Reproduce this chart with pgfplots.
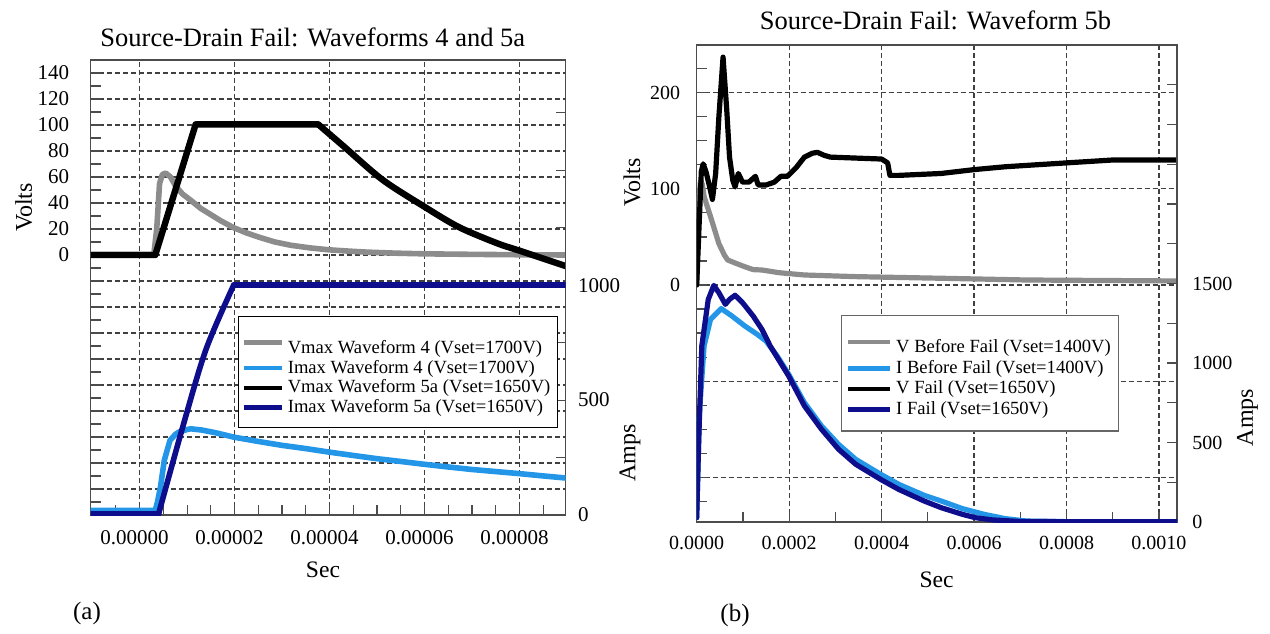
\documentclass[border=0pt]{standalone}
\usepackage{pgfplots}
\pgfplotsset{compat=1.18}
\usepackage{fontspec}
\setmainfont{Liberation Serif}
\definecolor{vgray}{RGB}{140,140,140}
\definecolor{iblue}{RGB}{35,150,232}
\definecolor{inavy}{RGB}{14,14,140}
\pgfplotsset{
  common/.style={
    scale only axis,
    /pgf/number format/assume math mode=true,
    tick align=inside,
    major tick length=5pt, minor tick length=5pt,
    tick style={black!70, line width=0.6pt},
    axis line style={black!70, line width=0.6pt},
    major grid style={black!75, line width=0.6pt, dash pattern=on 2.5pt off 1.5pt},
    every axis plot/.append style={line join=round, line cap=round},
  },
}
\begin{document}
\begin{tikzpicture}
\useasboundingbox (0,0) rectangle (635pt,316.5pt);
% ---------------- Left panel: volts ----------------
\begin{axis}[common,
  at={(45.35pt,59pt)}, anchor=south west,
  width=237.45pt, height=227.5pt,
  xmin=-1.03, xmax=8.97, ymin=-200, ymax=150,
  xtick={0,2,4,6,8}, xticklabels={0.00000,0.00002,0.00004,0.00006,0.00008},
  minor xtick={-0.5,0.5,1,1.5,2.5,3,3.5,4.5,5,5.5,6.5,7,7.5,8.5},
  ytick={-200,-180,...,140},
  yticklabels={,,,,,,,,,,0,20,40,60,80,100,120,140},
  minor ytick={-190,-170,...,130},
  xtick pos=bottom, ytick pos=left,
  grid=major,
  xticklabel style={font=\fontsize{10.5}{12}\selectfont, yshift=-4pt, xshift=-2.5pt},
  yticklabel style={font=\fontsize{10.5}{12}\selectfont, xshift=-7.3pt},
]
\addplot[vgray, line width=2.8pt] coordinates {
(-1.03,0.5) (0.30,0.5) (0.36,20) (0.42,55) (0.48,62) (0.55,63) (0.65,60) (0.76,53)
(0.9,47) (1.08,42) (1.28,36) (1.48,31.5) (1.7,26.5) (1.98,21) (2.25,17) (2.53,13.5)
(2.85,10) (3.18,7.5) (3.58,5.5) (3.98,4) (4.4,3) (4.79,2.2) (5.4,1.4) (5.98,0.9)
(7,0.5) (8,0.2) (8.97,0)
};
\addplot[black, line width=3.2pt] coordinates {
(-1.03,0) (0.33,0) (1.18,100.5) (3.76,100.5)
};
\addplot[black, line width=3.2pt, smooth, tension=0.5] coordinates {
(3.76,100.5) (4.3,83.5) (5.11,58) (5.98,37.5) (6.72,21.5) (7.53,9) (8.0,3.3) (8.97,-8.5)
};
\end{axis}
% ---------------- Left panel: amps ----------------
\begin{axis}[common,
  at={(45.35pt,59pt)}, anchor=south west,
  width=237.45pt, height=227.5pt,
  xmin=-1.03, xmax=8.97, ymin=0, ymax=1980,
  axis x line=none, axis y line*=right,
  ytick={0,250,...,1750}, yticklabels={0,,500,,1000,,,},
  yticklabel style={font=\fontsize{10.5}{12}\selectfont, xshift=2.7pt},
  legend style={at={(0.984,0.4374)}, anchor=north east, draw=black, line width=0.6pt,
    fill=white, font=\fontsize{9.3}{10.5}\selectfont, row sep=-2.25pt,
    inner xsep=1.5pt, inner ysep=4.05pt},
  legend cell align=left,
  legend image code/.code={\draw[#1, line width=2.2pt, line cap=butt] (0pt,0pt) -- (19pt,0pt);},
]
\addlegendimage{vgray}
\addlegendentry{\rule{0pt}{12.5pt}Vmax Waveform 4 (Vset=1700V)}
\addlegendimage{iblue}
\addlegendentry{Imax Waveform 4 (Vset=1700V)}
\addlegendimage{black}
\addlegendentry{Vmax Waveform 5a (Vset=1650V)}
\addlegendimage{inavy}
\addlegendentry{Imax Waveform 5a (Vset=1650V)}
\addplot[iblue, line width=2.8pt, forget plot] coordinates {
(-1.03,20) (0.33,20) (0.38,60) (0.44,123) (0.52,238) (0.64,325) (0.76,352) (0.84,362)
(1.0,372) (1.08,375) (1.3,370) (1.6,358) (1.98,339) (2.5,320) (3.0,303) (3.5,289)
(3.98,274) (4.5,259) (5.0,245) (5.5,233) (5.98,221) (6.5,209) (7.0,198) (7.5,189)
(8.0,180) (8.5,170) (8.97,161)
};
\addplot[inavy, line width=2.8pt, forget plot] coordinates {(-1.03,5) (0.40,5)};
\addplot[inavy, line width=2.8pt, smooth, tension=0.5, forget plot] coordinates {
(0.40,5) (0.92,392) (1.40,722) (1.98,1000)
};
\addplot[inavy, line width=2.8pt, forget plot] coordinates {(1.98,1000) (8.97,1000)};
\end{axis}
% ---------------- Right panel: volts ----------------
\begin{axis}[common,
  at={(348.35pt,55.5pt)}, anchor=south west,
  width=240.15pt, height=238.5pt,
  xmin=0, xmax=10.39, ymin=-246.5, ymax=249.6,
  xtick={0,2,4,6,8,10}, xticklabels={0.0000,0.0002,0.0004,0.0006,0.0008,0.0010},
  minor xtick={1,3,5,7,9},
  ytick={-200,-100,0,100,200}, yticklabels={,,0,100,200},
  minor ytick={-225,-175,-150,-125,-75,-50,-25,25,50,75,125,150,175,225},
  xtick pos=bottom, ytick pos=left,
  grid=major,
  xticklabel style={font=\fontsize{10}{12}\selectfont, yshift=-3.5pt},
  yticklabel style={font=\fontsize{10}{12}\selectfont, xshift=-4.7pt},
]
\addplot[vgray, line width=2.6pt] coordinates {
(0,0) (0.04,80) (0.08,108) (0.12,105) (0.16,92) (0.3,71) (0.48,43) (0.6,31) (0.67,26)
(0.85,22.5) (1.04,19) (1.22,16) (1.41,15.6) (1.78,12.8) (2.33,10.4) (3.44,8.7)
(5.29,7) (7.14,5.2) (10.39,4.2)
};
\addplot[black, line width=2.6pt] coordinates {
(0,0) (0.05,60) (0.1,118) (0.14,126) (0.2,118) (0.28,102) (0.34,89) (0.41,116)
(0.48,175) (0.57,237) (0.65,182) (0.71,133) (0.78,109) (0.83,102) (0.9,116) (0.99,107)
(1.13,107) (1.27,113) (1.33,104) (1.5,104) (1.68,107) (1.82,113) (1.96,113) (2.15,122)
(2.33,133) (2.5,137) (2.61,138) (2.75,135) (2.89,133) (3.44,132) (4.0,131) (4.13,127)
(4.18,114) (4.37,114) (5.29,116) (6.0,120) (6.68,123) (8.0,127) (9.0,130) (10.39,130)
};
\end{axis}
% ---------------- Right panel: amps ----------------
\begin{axis}[common,
  at={(348.35pt,55.5pt)}, anchor=south west,
  width=240.15pt, height=238.5pt,
  xmin=0, xmax=10.39, ymin=0, ymax=3000,
  axis x line=none, axis y line*=right,
  ytick={0,250,...,3000}, yticklabels={0,,500,,1000,,1500,,,,,,},
  yticklabel style={font=\fontsize{10}{12}\selectfont, xshift=4.2pt},
  legend style={at={(0.88,0.434)}, anchor=north east, draw=black!60, line width=0.6pt,
    fill=white, font=\fontsize{9.3}{10.5}\selectfont, row sep=-1.65pt,
    inner xsep=2pt, inner ysep=4.7pt},
  legend cell align=left,
  legend image code/.code={\draw[#1, line width=2.2pt, line cap=butt] (0pt,0pt) -- (21pt,0pt);},
]
\addlegendimage{vgray}
\addlegendentry{\rule{0pt}{11.8pt}V Before Fail (Vset=1400V)}
\addlegendimage{iblue}
\addlegendentry{I Before Fail (Vset=1400V)}
\addlegendimage{black}
\addlegendentry{V Fail (Vset=1650V)}
\addlegendimage{inavy}
\addlegendentry{I Fail (Vset=1650V)}
\addplot[iblue, line width=2.6pt, forget plot] coordinates {
(0,27) (0.06,688) (0.16,1107) (0.3,1275) (0.53,1342) (0.76,1296) (1.04,1233) (1.31,1180)
(1.5,1138) (1.75,1040) (1.99,929) (2.33,751) (2.7,604) (3.07,488) (3.44,394) (3.98,300)
(4.37,237) (4.92,168) (5.29,132) (5.75,84) (6.22,48) (6.68,21) (7.14,6) (8.07,2) (10.39,2)
};
\addplot[inavy, line width=2.6pt, forget plot] coordinates {
(0,27) (0.04,478) (0.11,1107) (0.25,1400) (0.37,1488) (0.48,1442) (0.62,1369) (0.71,1400)
(0.83,1426) (0.99,1380) (1.22,1296) (1.41,1212) (1.59,1107) (1.99,918) (2.33,730)
(2.7,583) (3.07,457) (3.44,363) (3.98,268) (4.37,205) (4.92,132) (5.29,90) (5.75,48)
(6.03,27) (6.4,13) (6.96,4) (8.07,2) (10.39,2)
};
\end{axis}
% ---------------- Texts ----------------
\node[font=\fontsize{13.25}{15}\selectfont] at (156.4pt,298pt) {Source-Drain Fail: Waveforms 4 and 5a};
\node[font=\fontsize{13.25}{15}\selectfont] at (467.75pt,306.5pt) {Source-Drain Fail: Waveform 5b};
\node[font=\fontsize{12}{14}\selectfont, rotate=90] at (11.85pt,212.75pt) {Volts};
\node[font=\fontsize{11.8}{14}\selectfont] at (161.5pt,31.5pt) {Sec};
\node[font=\fontsize{12.5}{14}\selectfont] at (43.5pt,10pt) {(a)};
\node[font=\fontsize{12}{14}\selectfont, rotate=90] at (316pt,225.25pt) {Volts};
\node[font=\fontsize{12}{14}\selectfont, rotate=90] at (315pt,90pt) {Amps};
\node[font=\fontsize{12}{14}\selectfont, rotate=90] at (623.7pt,107.75pt) {Amps};
\node[font=\fontsize{11.8}{14}\selectfont] at (468.3pt,26.5pt) {Sec};
\node[font=\fontsize{12.5}{14}\selectfont] at (367.5pt,9pt) {(b)};
\end{tikzpicture}
\end{document}
